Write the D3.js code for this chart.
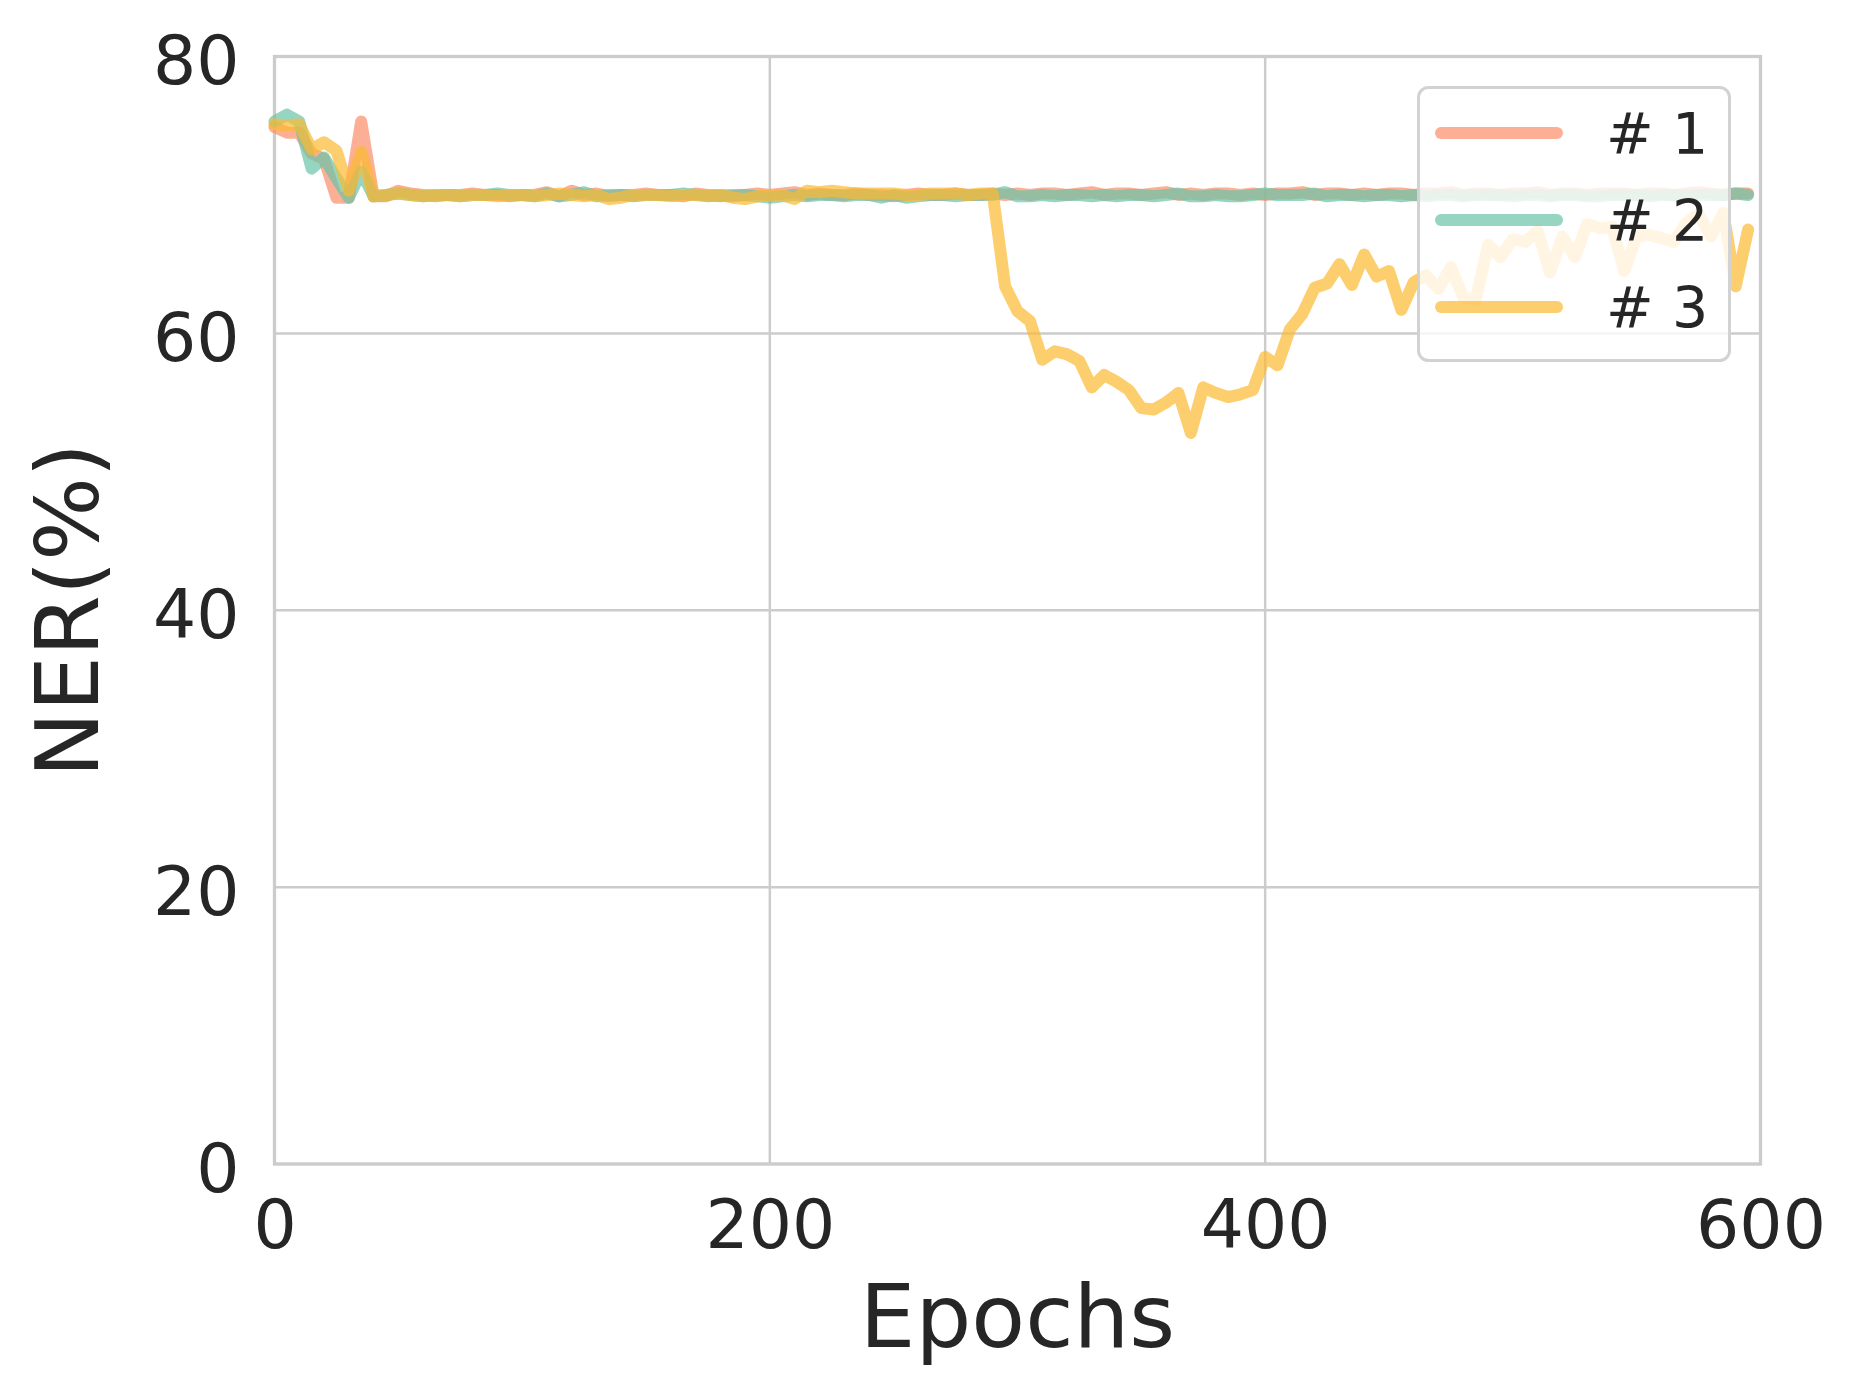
<!DOCTYPE html>
<html>
<head>
<meta charset="utf-8">
<script src="https://cdn.jsdelivr.net/npm/d3@7"></script>
<style>
  body { margin: 0; background: #fff; }
  text { font-family: "DejaVu Sans", sans-serif; fill: #262626; }
</style>
</head>
<body>
<div class="chart"></div>
<script>
// sampled every 5 epochs
var epochs = [
    0, 5, 10, 15, 20, 25, 30, 35, 40, 45, 50, 55, 60, 65, 70, 75, 80, 85, 90, 95,
    100, 105, 110, 115, 120, 125, 130, 135, 140, 145, 150, 155, 160, 165, 170, 175, 180, 185, 190, 195,
    200, 205, 210, 215, 220, 225, 230, 235, 240, 245, 250, 255, 260, 265, 270, 275, 280, 285, 290, 295,
    300, 305, 310, 315, 320, 325, 330, 335, 340, 345, 350, 355, 360, 365, 370, 375, 380, 385, 390, 395,
    400, 405, 410, 415, 420, 425, 430, 435, 440, 445, 450, 455, 460, 465, 470, 475, 480, 485, 490, 495,
    500, 505, 510, 515, 520, 525, 530, 535, 540, 545, 550, 555, 560, 565, 570, 575, 580, 585, 590, 595
];

var run1 = [
    74.9, 74.5, 74.5, 73.0, 72.6, 69.8, 69.8, 75.3, 69.9,
    69.9, 70.3, 70.1, 70.0, 69.9, 70.0, 70.0, 70.1, 70.0, 70.0,
    69.9, 70.0, 70.0, 70.2, 69.9, 70.3, 70.0, 70.1, 69.9, 70.0,
    70.0, 70.1, 70.0, 70.0, 69.9, 70.1, 70.0, 69.9, 70.0, 70.0,
    70.1, 70.0, 70.1, 70.2, 70.0, 70.1, 70.0, 70.0, 70.1, 70.0,
    70.0, 69.9, 70.0, 70.1, 70.0, 70.0, 70.1, 70.0, 70.0, 70.1,
    70.0, 70.1, 70.0, 70.1, 70.1, 70.0, 70.1, 70.2, 70.0, 70.1,
    70.1, 70.0, 70.1, 70.2, 70.0, 70.1, 70.0, 70.1, 70.1, 70.0,
    70.1, 70.0, 70.1, 70.1, 70.2, 70.0, 70.1, 70.1, 70.0, 70.1,
    70.0, 70.1, 70.1, 70.0, 70.1, 70.1, 70.2, 70.0, 70.1, 70.1,
    70.0, 70.1, 70.1, 70.2, 70.0, 70.1, 70.1, 70.0, 70.1, 70.1,
    70.1, 70.0, 70.1, 70.1, 70.0, 70.1, 70.2, 70.1, 70.0, 70.1,
    70.1
];

var run2 = [
    75.3, 75.8, 75.3, 71.9, 72.7, 71.2, 69.8, 71.7, 69.9,
    70.0, 70.1, 70.0, 69.9, 70.0, 70.0, 69.9, 70.0, 70.0, 70.1,
    70.0, 70.0, 69.9, 70.1, 69.9, 70.0, 70.2, 69.9, 70.0, 70.0,
    69.9, 70.0, 70.0, 70.0, 70.1, 70.0, 69.9, 70.0, 69.9, 70.0,
    69.9, 69.8, 69.9, 70.0, 69.9, 70.0, 70.0, 69.9, 70.0, 70.0,
    69.8, 70.0, 69.8, 69.9, 70.0, 70.0, 69.9, 70.0, 70.0, 70.0,
    70.2, 69.9, 69.9, 70.0, 69.9, 70.0, 70.0, 69.9, 70.0, 69.9,
    70.0, 70.0, 69.9, 70.0, 70.1, 69.9, 69.9, 70.0, 69.9, 69.9,
    70.0, 70.1, 70.0, 70.0, 70.0, 70.1, 69.9, 70.0, 70.0, 69.9,
    70.0, 70.0, 69.9, 70.0, 69.9, 70.0, 70.0, 69.9, 70.0, 70.0,
    70.0, 69.9, 70.0, 70.0, 69.9, 70.0, 70.0, 69.9, 69.9, 70.0,
    70.0, 70.0, 69.9, 70.0, 70.0, 69.9, 70.0, 70.0, 70.0, 70.1,
    70.0
];

var run3 = [
    75.1, 75.0, 75.1, 73.3, 73.8, 73.2, 70.3, 73.1, 69.9,
    70.0, 70.1, 70.0, 69.9, 70.0, 70.0, 69.9, 70.0, 70.0, 69.9,
    70.0, 70.0, 69.9, 70.0, 70.1, 70.0, 69.9, 70.0, 69.7, 69.8,
    70.0, 70.0, 70.0, 69.9, 70.0, 70.0, 70.0, 70.0, 69.8, 69.7,
    69.9, 70.0, 70.0, 69.7, 70.3, 70.2, 70.3, 70.2, 70.1, 70.1,
    70.1, 70.1, 70.0, 70.0, 70.1, 70.1, 70.1, 70.0, 70.1, 70.1,
    63.4, 61.6, 60.9, 58.1, 58.7, 58.5, 58.0, 56.1, 57.0, 56.5,
    55.9, 54.6, 54.5, 55.0, 55.7, 52.8, 56.1, 55.7, 55.4, 55.6,
    55.9, 58.3, 57.7, 60.3, 61.4, 63.3, 63.6, 65.0, 63.5, 65.7,
    64.1, 64.5, 61.7, 63.7, 64.2, 63.2, 64.8, 62.6, 62.4, 66.4,
    65.5, 66.8, 66.6, 67.4, 64.4, 67.0, 65.5, 67.9, 67.6, 67.7,
    64.5, 67.0, 67.1, 66.9, 66.6, 68.0, 68.6, 67.0, 68.7, 63.4,
    67.5
];

var seriesNames = ["# 1", "# 2", "# 3"];
var seriesColors = ["#fb8d66", "#69c3a8", "#fcb930"];
var xTicks = [0, 200, 400, 600];
var yTicks = [0, 20, 40, 60, 80];

var width = 1858, height = 1394;
var margin = {left: 274.5, right: 97.5, top: 56.5, bottom: 230};

var svg = d3.select(".chart").append("svg")
    .attr("width", width)
    .attr("height", height);

var x = d3.scaleLinear().domain([0, 600]).range([margin.left, width - margin.right]);
var y = d3.scaleLinear().domain([0, 80]).range([height - margin.bottom, margin.top]);

// grid
svg.append("g").attr("class", "grid")
    .selectAll("line.gx").data(xTicks).enter().append("line")
    .attr("x1", function (d) { return x(d); })
    .attr("x2", function (d) { return x(d); })
    .attr("y1", y(0)).attr("y2", y(80))
    .attr("stroke", "#cccccc").attr("stroke-width", 2.5);
svg.select("g.grid")
    .selectAll("line.gy").data(yTicks).enter().append("line")
    .attr("x1", x(0)).attr("x2", x(600))
    .attr("y1", function (d) { return y(d); })
    .attr("y2", function (d) { return y(d); })
    .attr("stroke", "#cccccc").attr("stroke-width", 2.5);

// spines
svg.append("rect")
    .attr("x", x(0)).attr("y", y(80))
    .attr("width", x(600) - x(0)).attr("height", y(0) - y(80))
    .attr("fill", "none").attr("stroke", "#cccccc").attr("stroke-width", 3.3);

// lines
var runs = [run1, run2, run3];
var line = d3.line()
    .x(function (d) { return x(d[0]); })
    .y(function (d) { return y(d[1]); });

runs.forEach(function (vals, i) {
    svg.append("path")
        .datum(epochs.map(function (e, j) { return [e, vals[j]]; }))
        .attr("d", line)
        .attr("fill", "none")
        .attr("stroke", seriesColors[i])
        .attr("stroke-opacity", 0.7)
        .attr("stroke-width", 12)
        .attr("stroke-linejoin", "round")
        .attr("stroke-linecap", "round");
});

// axes
var xAxis = svg.append("g")
    .attr("transform", "translate(0," + y(0) + ")")
    .call(d3.axisBottom(x).tickValues(xTicks).tickSize(0).tickPadding(0));
xAxis.select(".domain").remove();
xAxis.selectAll("text")
    .attr("dy", null).attr("y", 84)
    .style("font-size", "68px").attr("fill", "#262626");

var yAxis = svg.append("g")
    .attr("transform", "translate(" + x(0) + ",0)")
    .call(d3.axisLeft(y).tickValues(yTicks).tickSize(0).tickPadding(35));
yAxis.select(".domain").remove();
yAxis.selectAll("text")
    .attr("dy", "0.4em")
    .style("font-size", "68px").attr("fill", "#262626");

svg.selectAll(".tick text").attr("font-family", null);

// axis labels
svg.append("text")
    .attr("x", (x(0) + x(600)) / 2)
    .attr("y", 1347)
    .attr("text-anchor", "middle")
    .style("font-size", "88px")
    .text("Epochs");

svg.append("text")
    .attr("transform", "translate(98," + (y(0) + y(80)) / 2 + ") rotate(-90)")
    .attr("text-anchor", "middle")
    .style("font-size", "88px")
    .text("NER(%)");

// legend
var legend = svg.append("g").attr("class", "legend");
legend.append("rect")
    .attr("x", 1418.5).attr("y", 87.5)
    .attr("width", 311).attr("height", 273)
    .attr("rx", 10).attr("ry", 10)
    .attr("fill", "#ffffff").attr("fill-opacity", 0.8)
    .attr("stroke", "#d2d2d2").attr("stroke-width", 3);

var rows = legend.selectAll("g.row").data(seriesNames).enter().append("g")
    .attr("transform", function (d, i) { return "translate(0," + (133 + i * 87) + ")"; });
rows.append("line")
    .attr("x1", 1441).attr("x2", 1557)
    .attr("stroke", function (d, i) { return seriesColors[i]; })
    .attr("stroke-opacity", 0.7)
    .attr("stroke-width", 12)
    .attr("stroke-linecap", "round");
rows.append("text")
    .attr("x", 1606).attr("y", 21)
    .style("font-size", "57px")
    .text(function (d) { return d; });
</script>
</body>
</html>
